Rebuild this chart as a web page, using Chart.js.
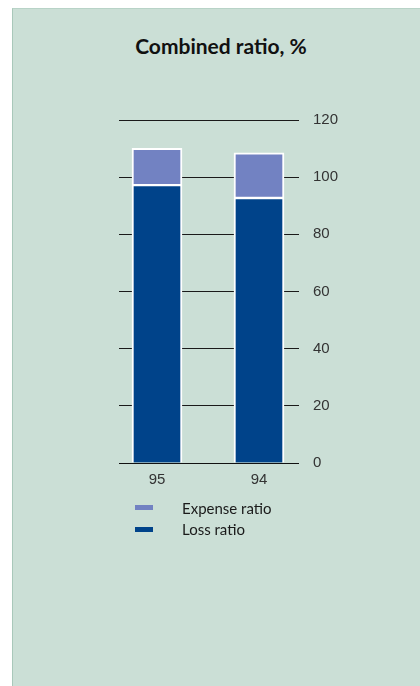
<!DOCTYPE html>
<html>
<head>
<meta charset="utf-8">
<script src="https://cdn.jsdelivr.net/npm/chart.js@4.4.1/dist/chart.umd.min.js"></script>
<style>
  html, body { margin: 0; padding: 0; background: #ffffff; }
  body { width: 420px; height: 686px; position: relative; overflow: hidden; }
  .panel {
    position: absolute; left: 12px; top: 8px; right: 0; bottom: 0;
    background: #cbdfd6;
    border-left: 1px solid #a9c8ba;
    border-top: 1px solid #b8d3c7;
  }
  #chart { position: absolute; left: 0; top: 0; }
  .title {
    position: absolute; left: 0; top: 33px; width: 442px;
    text-align: center;
    font-family: Lato, "Liberation Sans", sans-serif;
    font-weight: bold; font-size: 21px; line-height: 25px;
    color: #111111;
  }
  #legend {
    position: absolute; left: 135px; top: 497px;
    margin: 0; padding: 0; list-style: none;
    font-family: Lato, "Liberation Sans", sans-serif;
    font-size: 15px; color: #1a1a1a;
  }
  #legend li { display: flex; align-items: center; height: 21.5px; }
  #legend .box { display: inline-block; width: 18px; height: 5px; margin-right: 29px; }
</style>
</head>
<body>
<div class="panel"></div>
<div class="title">Combined ratio, %</div>
<canvas id="chart" width="420" height="686"></canvas>
<ul id="legend"></ul>
<script>
const years = ['95', '94'];
const lossRatio = [97.2, 92.7];
const expenseRatio = [12.9, 15.8];
const yTicks = [0, 20, 40, 60, 80, 100, 120];

const darkBlue = '#00438a';
const lightBlue = '#7282c2';

const toPoints = arr => arr.map((v, i) => ({ x: i, y: v }));

// legend as a plain list under the chart (two rows, like the printed one)
const htmlLegend = {
    id: 'htmlLegend',
    afterUpdate(chart) {
        const ul = document.getElementById('legend');
        ul.innerHTML = '';
        const items = Chart.defaults.plugins.legend.labels.generateLabels(chart).reverse();
        items.forEach(item => {
            const li = document.createElement('li');
            const box = document.createElement('span');
            box.className = 'box';
            box.style.background = item.fillStyle;
            const txt = document.createElement('span');
            txt.textContent = item.text;
            li.appendChild(box);
            li.appendChild(txt);
            ul.appendChild(li);
        });
    }
};

new Chart(document.getElementById('chart'), {
    type: 'bar',
    data: {
        datasets: [
            {
                label: 'Loss ratio',
                data: toPoints(lossRatio),
                backgroundColor: darkBlue,
                borderColor: '#ffffff',
                borderWidth: { top: 1.5, left: 2, right: 2, bottom: 0 },
                borderSkipped: false,
                barThickness: 50
            },
            {
                label: 'Expense ratio',
                data: toPoints(expenseRatio),
                backgroundColor: lightBlue,
                borderColor: '#ffffff',
                borderWidth: { top: 2, left: 2, right: 2, bottom: 1.5 },
                borderSkipped: false,
                barThickness: 50
            }
        ]
    },
    options: {
        responsive: false,
        animation: false,
        layout: {
            padding: { left: 119, right: 68, top: 120, bottom: 189 }
        },
        plugins: {
            legend: { display: false },
            tooltip: { enabled: false },
            title: { display: false }
        },
        scales: {
            x: {
                type: 'linear',
                stacked: true,
                offset: false,
                min: -0.3725,
                max: 1.392,
                afterBuildTicks: scale => {
                    scale.ticks = years.map((_, i) => ({ value: i }));
                },
                grid: { display: false, drawTicks: false, offset: false },
                border: { display: true, color: '#111111', width: 1 },
                ticks: {
                    callback: value => years[value],
                    color: '#333333',
                    padding: 8,
                    maxRotation: 0,
                    font: { family: '"Liberation Sans", Arial, sans-serif', size: 15 }
                }
            },
            y: {
                position: 'right',
                stacked: true,
                min: 0,
                max: 120,
                afterBuildTicks: scale => {
                    scale.ticks = yTicks.map(v => ({ value: v }));
                },
                grid: { color: '#1a1a1a', lineWidth: 1, drawTicks: false },
                border: { display: false },
                ticks: {
                    color: '#333333',
                    padding: 14,
                    font: { family: '"Liberation Sans", Arial, sans-serif', size: 15 }
                }
            }
        }
    },
    plugins: [htmlLegend]
});
</script>
</body>
</html>
